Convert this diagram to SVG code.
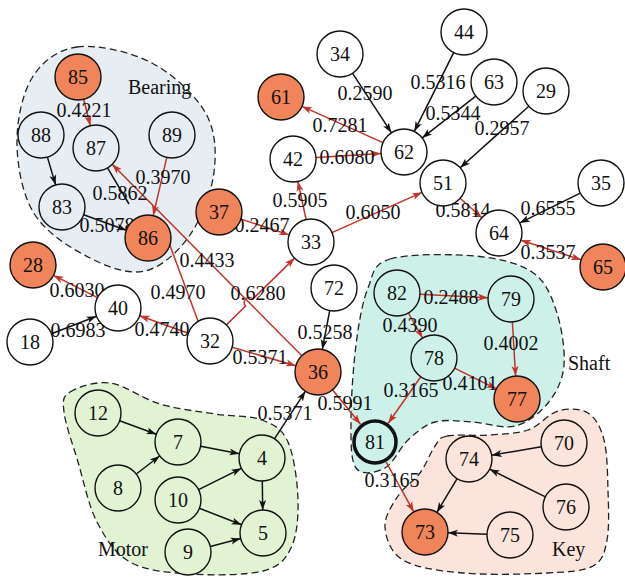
<svg xmlns="http://www.w3.org/2000/svg" width="625" height="577" viewBox="0 0 625 577" font-family="'Liberation Serif', 'Times New Roman', serif">
<defs>
<style>
.blob{stroke:#222;stroke-width:1.3;stroke-dasharray:7,4}
.bb{fill:#E7EEF3}.bs{fill:#CDF1E9}.bm{fill:#E2F3D4}.bk{fill:#FBE4DC}
.e{fill:none;stroke-width:1.5}
.r{stroke:#C0342B}.k{stroke:#111}
.ra{marker-end:url(#ar)}.ka{marker-end:url(#ak)}
circle{stroke:#111;stroke-width:1.4}
.w{fill:#fff}.o{fill:#F0845A}.fb{fill:#E7EEF3}.fs{fill:#CDF1E9}.fm{fill:#E2F3D4}.fk{fill:#FBE4DC}
.thick{stroke-width:3.5}
text{font-family:'Liberation Serif','Times New Roman',serif;fill:#111}
.nl{font-size:20px;text-anchor:middle}
.el{font-size:20px;text-anchor:middle}
.gl{font-size:20px}
</style>
<marker id="ar" markerWidth="11" markerHeight="8" refX="10" refY="4" orient="auto-start-reverse" markerUnits="userSpaceOnUse"><path d="M0,0.5 L10,4 L0,7.5 L2.5,4 Z" fill="#C0342B"/></marker>
<marker id="ak" markerWidth="11" markerHeight="8" refX="10" refY="4" orient="auto" markerUnits="userSpaceOnUse"><path d="M0,0.5 L10,4 L0,7.5 L2.5,4 Z" fill="#111"/></marker>
</defs>
<rect width="625" height="577" fill="#fff"/>
<g id="groups">
<path class="blob bb" d="M77,47 C96.7,44.3 128.7,51.2 150,62 C171.3,72.8 194.3,93.7 205,112 C215.7,130.3 216.5,151.5 214,172 C211.5,192.5 201.5,218.5 190,235 C178.5,251.5 161.7,267.2 145,271 C128.3,274.8 108.3,267.3 90,258 C71.7,248.7 47.2,233.8 35,215 C22.8,196.2 17.5,167.8 17,145 C16.5,122.2 22,94.3 32,78 C42,61.7 57.3,49.7 77,47 Z"/>
<path class="blob bs" d="M390,259 C407.8,253.7 451.3,253.8 475,256 C498.7,258.2 518.5,263 532,272 C545.5,281 550.7,294.5 556,310 C561.3,325.5 565.3,349.5 564,365 C562.7,380.5 556.2,392.8 548,403 C539.8,413.2 527.7,422.8 515,426 C502.3,429.2 485.3,422.7 472,422 C458.7,421.3 445.7,419 435,422 C424.3,425 416.3,432.3 408,440 C399.7,447.7 393.7,463.3 385,468 C376.3,472.7 361.7,476 356,468 C350.3,460 351,440.5 351,420 C351,399.5 353.2,367 356,345 C358.8,323 362.3,302.3 368,288 C373.7,273.7 372.2,264.3 390,259 Z"/>
<path class="blob bm" d="M70,392 C77.7,387.2 95,381 110,383 C125,385 142.5,398.8 160,404 C177.5,409.2 198,411.3 215,414 C232,416.7 249.8,415.3 262,420 C274.2,424.7 282,428.7 288,442 C294,455.3 297.5,482.3 298,500 C298.5,517.7 296.8,536.2 291,548 C285.2,559.8 279.8,566.3 263,571 C246.2,575.3 212.2,575.5 190,574 C167.8,572.5 145.5,570.7 130,562 C114.5,553.3 105.7,538.7 97,522 C88.3,505.3 83.5,480.3 78,462 C72.5,443.7 65.3,423.7 64,412 C62.7,400.3 62.3,396.8 70,392 Z"/>
<path class="blob bk" d="M447,436 C455.8,434.2 474.5,436 488,435 C501.5,434 516.3,434 528,430 C539.7,426 548,413.8 558,411 C568,408.2 580.3,408.2 588,413 C595.7,417.8 600.7,427.2 604,440 C607.3,452.8 607.5,473.3 608,490 C608.5,506.7 609.5,527.3 607,540 C604.5,552.7 603,560.5 593,566 C583,571.5 568.7,571.8 547,573 C525.3,574.2 487,575.2 463,573 C439,570.8 416,567.7 403,560 C390,552.3 385.8,537.7 385,527 C384.2,516.3 392.2,505 398,496 C403.8,487 413.8,481.3 420,473 C426.2,464.7 430.5,452.2 435,446 C439.5,439.8 438.2,437.8 447,436 Z"/>
<text class="gl" x="128" y="94">Bearing</text>
<text class="gl" x="568" y="370">Shaft</text>
<text class="gl" x="98" y="556">Motor</text>
<text class="gl" x="552" y="556">Key</text>
</g>
<g id="connectors">
<line class="e r ra" x1="83.7" y1="99.3" x2="90.3" y2="125.7"/>
<line class="e k ka" x1="47.4" y1="157.1" x2="55.6" y2="184.9"/>
<line class="e k" x1="107.5" y1="167.9" x2="129" y2="204"/>
<line class="e k ka" x1="83.6" y1="214.8" x2="126.4" y2="230.2"/>
<line class="e r ra" x1="166.8" y1="157.4" x2="153.2" y2="215.6"/>
<line class="e r ra" x1="301.8" y1="355.7" x2="112.2" y2="164.3"/>
<line class="e r ra" x1="240.9" y1="219.1" x2="289.1" y2="234.9"/>
<line class="e r ra" x1="306.1" y1="219.5" x2="297.9" y2="181.5"/>
<line class="e r ra" x1="316" y1="157.6" x2="381" y2="153.4"/>
<line class="e r ra" x1="383" y1="142.6" x2="302" y2="106.4"/>
<line class="e k ka" x1="352.6" y1="73.3" x2="391.4" y2="132.7"/>
<line class="e k ka" x1="453.7" y1="52.6" x2="414.3" y2="131.4"/>
<line class="e k ka" x1="475.8" y1="96.1" x2="422.2" y2="137.9"/>
<line class="e k ka" x1="528.8" y1="106.3" x2="460.2" y2="167.7"/>
<line class="e r ra" x1="332" y1="232.6" x2="422" y2="192.4"/>
<line class="e r ra" x1="460.2" y1="198.3" x2="481.8" y2="217.7"/>
<line class="e k ka" x1="580.3" y1="193.1" x2="519.7" y2="222.9"/>
<line class="e r ra" x1="520.9" y1="240.2" x2="581.1" y2="259.8" marker-start="url(#ar)"/>
<line class="e r ra" x1="97.5" y1="297.6" x2="53.5" y2="275.4"/>
<line class="e k ka" x1="51.5" y1="333.7" x2="96.5" y2="316.3"/>
<line class="e r ra" x1="188.4" y1="333.2" x2="139.6" y2="315.8"/>
<line class="e r ra" x1="198.1" y1="321.3" x2="159.9" y2="218.3"/>
<path class="e r ra" d="M226.4,324.9 L245.6,306.1 A5,5 0 0 1 252.8,299.1 L294.6,258.1"/>
<line class="e r ra" x1="232.1" y1="347.3" x2="295.9" y2="365.7"/>
<line class="e k ka" x1="329.7" y1="310.6" x2="322.3" y2="349.4"/>
<line class="e k ka" x1="274.6" y1="438.7" x2="305.4" y2="391.3"/>
<line class="e r ra" x1="332.5" y1="389.8" x2="360.5" y2="424.2"/>
<line class="e r ra" x1="420" y1="294.2" x2="488" y2="297.8"/>
<line class="e r ra" x1="408.4" y1="313" x2="422.6" y2="338"/>
<line class="e r ra" x1="512.4" y1="322" x2="515.6" y2="376"/>
<line class="e r ra" x1="454.6" y1="368.2" x2="496.4" y2="388.8"/>
<line class="e r ra" x1="420.8" y1="376.8" x2="388.2" y2="423.2"/>
<line class="e r ra" x1="386.2" y1="462.1" x2="413.8" y2="511.9"/>
<line class="e k ka" x1="541.3" y1="446.8" x2="491.7" y2="455.2"/>
<line class="e k ka" x1="545.4" y1="496.8" x2="489.6" y2="469.2"/>
<line class="e k ka" x1="457.1" y1="478.7" x2="436.9" y2="512.3"/>
<line class="e k ka" x1="487" y1="534.2" x2="448" y2="532.8"/>
<line class="e k ka" x1="119.6" y1="420.8" x2="156.4" y2="434.2"/>
<line class="e k ka" x1="136.3" y1="474" x2="159.7" y2="456"/>
<line class="e k ka" x1="200.6" y1="446.3" x2="239.4" y2="453.7"/>
<line class="e k ka" x1="198.6" y1="489.7" x2="241.4" y2="468.3"/>
<line class="e k ka" x1="199.4" y1="508.3" x2="241.6" y2="524.7"/>
<line class="e k ka" x1="262.3" y1="481" x2="262.7" y2="510"/>
<line class="e k ka" x1="210.3" y1="546.4" x2="240.7" y2="538.6"/>
<text class="el" x="84" y="117">0.4221</text>
<text class="el" x="120" y="200">0.5862</text>
<text class="el" x="163" y="184">0.3970</text>
<text class="el" x="107" y="232">0.5078</text>
<text class="el" x="207" y="267">0.4433</text>
<text class="el" x="262" y="232">0.2467</text>
<text class="el" x="300" y="207">0.5905</text>
<text class="el" x="347" y="164">0.6080</text>
<text class="el" x="340" y="132">0.7281</text>
<text class="el" x="365" y="100">0.2590</text>
<text class="el" x="438" y="89">0.5316</text>
<text class="el" x="453" y="120">0.5344</text>
<text class="el" x="502" y="135">0.2957</text>
<text class="el" x="373" y="219">0.6050</text>
<text class="el" x="463" y="217">0.5814</text>
<text class="el" x="548" y="215">0.6555</text>
<text class="el" x="548" y="259">0.3537</text>
<text class="el" x="77" y="297">0.6030</text>
<text class="el" x="78" y="337">0.6983</text>
<text class="el" x="162" y="336">0.4740</text>
<text class="el" x="178" y="299">0.4970</text>
<text class="el" x="258" y="300">0.6280</text>
<text class="el" x="260" y="364">0.5371</text>
<text class="el" x="325" y="339">0.5258</text>
<text class="el" x="285" y="420">0.5371</text>
<text class="el" x="345" y="410">0.5991</text>
<text class="el" x="451" y="304">0.2488</text>
<text class="el" x="410" y="332">0.4390</text>
<text class="el" x="511" y="350">0.4002</text>
<text class="el" x="470" y="390">0.4101</text>
<text class="el" x="411" y="397">0.3165</text>
<text class="el" x="392" y="487">0.3165</text>
</g>
<g id="n85"><circle class="o" cx="78" cy="77" r="23"/><text class="nl" x="78" y="84">85</text></g>
<g id="n88"><circle class="fb" cx="41" cy="135" r="23"/><text class="nl" x="41" y="142">88</text></g>
<g id="n87"><circle class="fb" cx="96" cy="148" r="23"/><text class="nl" x="96" y="155">87</text></g>
<g id="n89"><circle class="fb" cx="172" cy="135" r="23"/><text class="nl" x="172" y="142">89</text></g>
<g id="n83"><circle class="fb" cx="62" cy="207" r="23"/><text class="nl" x="62" y="214">83</text></g>
<g id="n86"><circle class="o" cx="148" cy="238" r="23"/><text class="nl" x="148" y="245">86</text></g>
<g id="n37"><circle class="o" cx="219" cy="212" r="23"/><text class="nl" x="219" y="219">37</text></g>
<g id="n34"><circle class="w" cx="340" cy="54" r="23"/><text class="nl" x="340" y="61">34</text></g>
<g id="n61"><circle class="o" cx="281" cy="97" r="23"/><text class="nl" x="281" y="104">61</text></g>
<g id="n62"><circle class="w" cx="404" cy="152" r="23"/><text class="nl" x="404" y="159">62</text></g>
<g id="n42"><circle class="w" cx="293" cy="159" r="23"/><text class="nl" x="293" y="166">42</text></g>
<g id="n44"><circle class="w" cx="464" cy="32" r="23"/><text class="nl" x="464" y="39">44</text></g>
<g id="n63"><circle class="w" cx="494" cy="82" r="23"/><text class="nl" x="494" y="89">63</text></g>
<g id="n29"><circle class="w" cx="546" cy="91" r="23"/><text class="nl" x="546" y="98">29</text></g>
<g id="n51"><circle class="w" cx="443" cy="183" r="23"/><text class="nl" x="443" y="190">51</text></g>
<g id="n35"><circle class="w" cx="601" cy="183" r="23"/><text class="nl" x="601" y="190">35</text></g>
<g id="n64"><circle class="w" cx="499" cy="233" r="23"/><text class="nl" x="499" y="240">64</text></g>
<g id="n65"><circle class="o" cx="603" cy="267" r="23"/><text class="nl" x="603" y="274">65</text></g>
<g id="n33"><circle class="w" cx="311" cy="242" r="23"/><text class="nl" x="311" y="249">33</text></g>
<g id="n72"><circle class="w" cx="334" cy="288" r="23"/><text class="nl" x="334" y="295">72</text></g>
<g id="n36"><circle class="o" cx="318" cy="372" r="23"/><text class="nl" x="318" y="379">36</text></g>
<g id="n32"><circle class="w" cx="210" cy="341" r="23"/><text class="nl" x="210" y="348">32</text></g>
<g id="n28"><circle class="o" cx="33" cy="265" r="23"/><text class="nl" x="33" y="272">28</text></g>
<g id="n40"><circle class="w" cx="118" cy="308" r="23"/><text class="nl" x="118" y="315">40</text></g>
<g id="n18"><circle class="w" cx="30" cy="342" r="23"/><text class="nl" x="30" y="349">18</text></g>
<g id="n82"><circle class="fs" cx="397" cy="293" r="23"/><text class="nl" x="397" y="300">82</text></g>
<g id="n79"><circle class="fs" cx="511" cy="299" r="23"/><text class="nl" x="511" y="306">79</text></g>
<g id="n78"><circle class="fs" cx="434" cy="358" r="23"/><text class="nl" x="434" y="365">78</text></g>
<g id="n77"><circle class="o" cx="517" cy="399" r="23"/><text class="nl" x="517" y="406">77</text></g>
<g id="n81"><circle class="fs thick" cx="375" cy="442" r="21"/><text class="nl" x="375" y="449">81</text></g>
<g id="n74"><circle class="fk" cx="469" cy="459" r="23"/><text class="nl" x="469" y="466">74</text></g>
<g id="n70"><circle class="fk" cx="564" cy="443" r="23"/><text class="nl" x="564" y="450">70</text></g>
<g id="n76"><circle class="fk" cx="566" cy="507" r="23"/><text class="nl" x="566" y="514">76</text></g>
<g id="n73"><circle class="o" cx="425" cy="532" r="23"/><text class="nl" x="425" y="539">73</text></g>
<g id="n75"><circle class="fk" cx="510" cy="535" r="23"/><text class="nl" x="510" y="542">75</text></g>
<g id="n12"><circle class="fm" cx="98" cy="413" r="23"/><text class="nl" x="98" y="420">12</text></g>
<g id="n7"><circle class="fm" cx="178" cy="442" r="23"/><text class="nl" x="178" y="449">7</text></g>
<g id="n4"><circle class="fm" cx="262" cy="458" r="23"/><text class="nl" x="262" y="465">4</text></g>
<g id="n8"><circle class="fm" cx="118" cy="488" r="23"/><text class="nl" x="118" y="495">8</text></g>
<g id="n10"><circle class="fm" cx="178" cy="500" r="23"/><text class="nl" x="178" y="507">10</text></g>
<g id="n5"><circle class="fm" cx="263" cy="533" r="23"/><text class="nl" x="263" y="540">5</text></g>
<g id="n9"><circle class="fm" cx="188" cy="552" r="23"/><text class="nl" x="188" y="559">9</text></g>
</svg>
